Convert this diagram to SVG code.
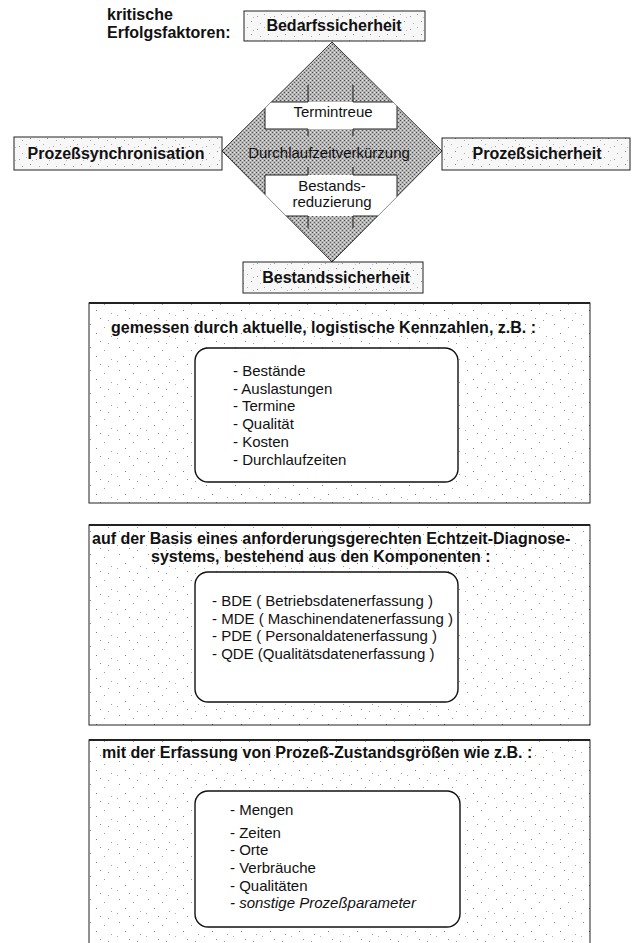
<svg xmlns="http://www.w3.org/2000/svg" width="633" height="943" viewBox="0 0 633 943">
<defs>
<style>
.lbl{font-family:"Liberation Sans",Arial,sans-serif;font-weight:bold;font-size:16px;fill:#111;text-anchor:middle}
.hd{font-family:"Liberation Sans",Arial,sans-serif;font-weight:bold;font-size:16px;fill:#111}
.it{font-family:"Liberation Sans",Arial,sans-serif;font-size:15px;fill:#111}
.dt{font-family:"Liberation Sans",Arial,sans-serif;font-size:15px;fill:#111;text-anchor:middle}
.box{fill:url(#lightspeck);stroke:#222;stroke-width:1}
.frame{fill:url(#speck);stroke:#222;stroke-width:1}
.topline{stroke:#222;stroke-width:2;fill:none}
.inner{fill:#fff;stroke:#111;stroke-width:1.4}
.wbox{fill:#fff;stroke:none}
.edge{fill:none;stroke:#222;stroke-width:1}
</style>
<pattern id="speck" width="29" height="23" patternUnits="userSpaceOnUse">
<rect width="29" height="23" fill="#fff"/>
<rect x="3" y="2" width="1" height="1" fill="#8a8a8a"/>
<rect x="17" y="5" width="1" height="1" fill="#9a9a9a"/>
<rect x="9" y="11" width="1" height="1" fill="#7a7a7a"/>
<rect x="24" y="14" width="1" height="1" fill="#a0a0a0"/>
<rect x="13" y="19" width="1" height="1" fill="#8a8a8a"/>
<rect x="1" y="16" width="1" height="1" fill="#b0b0b0"/>
<rect x="21" y="21" width="1" height="1" fill="#999"/>
</pattern>
<pattern id="lightspeck" width="17" height="13" patternUnits="userSpaceOnUse">
<rect width="17" height="13" fill="#f7f7f7"/>
<rect x="2" y="3" width="1" height="1" fill="#999"/>
<rect x="9" y="1" width="1" height="1" fill="#aaa"/>
<rect x="13" y="8" width="1" height="1" fill="#888"/>
<rect x="5" y="10" width="1" height="1" fill="#aaa"/>
<rect x="15" y="4" width="1" height="1" fill="#bbb"/>
</pattern>
<pattern id="halftone" width="4" height="4" patternUnits="userSpaceOnUse">
<rect width="4" height="4" fill="#b4b4b4"/>
<rect x="0" y="0" width="1" height="1" fill="#4a4a4a"/>
<rect x="2" y="2" width="1" height="1" fill="#5a5a5a"/>
<rect x="2" y="0" width="1" height="1" fill="#e6e6e6"/>
<rect x="0" y="2" width="1" height="1" fill="#dedede"/>
</pattern>
<clipPath id="dclip"><polygon points="332,42 442,151 332,262 222,151"/></clipPath>
</defs>

<g id="title">
<text class="hd" x="107" y="20">kritische</text>
<text class="hd" x="107" y="38">Erfolgsfaktoren:</text>
</g>

<g id="diamond">
<polygon points="332,42 442,151 332,262 222,151" fill="url(#halftone)" stroke="#333" stroke-width="1"/>
<g clip-path="url(#dclip)">
<rect class="wbox" x="265" y="102" width="132" height="27"/>
<rect class="wbox" x="265" y="175" width="132" height="41"/>
<path class="edge" d="M308,85 V102 H265 V129 H308 V136 M353,85 V102 H397 V129 H353 V136"/>
<path class="edge" d="M308,167 V175 H265 V216 H308 V228 M353,167 V175 H397 V216 H353 V228"/>
</g>
<text class="dt" x="333" y="117">Termintreue</text>
<text class="dt" x="329" y="158">Durchlaufzeitverkürzung</text>
<text class="dt" x="332" y="191">Bestands-</text>
<text class="dt" x="332" y="207">reduzierung</text>
</g>

<g id="n-bedarf">
<rect class="box" x="244" y="11" width="181" height="30"/>
<text class="lbl" x="334" y="31">Bedarfssicherheit</text>
</g>
<g id="n-prozsync">
<rect class="box" x="14" y="137" width="208" height="33"/>
<text class="lbl" x="116" y="159">Prozeßsynchronisation</text>
</g>
<g id="n-prozsich">
<rect class="box" x="442" y="138" width="188" height="32"/>
<text class="lbl" x="537" y="159">Prozeßsicherheit</text>
</g>
<g id="n-bestand">
<rect class="box" x="243" y="262" width="180" height="31"/>
<text class="lbl" x="336" y="283">Bestandssicherheit</text>
</g>

<g id="connectors"></g>

<g id="s-kennzahlen">
<rect class="frame" x="89" y="303" width="501" height="200"/>
<line class="topline" x1="89" y1="303" x2="590" y2="303"/>
<text class="hd" x="111" y="333">gemessen durch aktuelle, logistische Kennzahlen, z.B. :</text>
<rect class="inner" x="195" y="348" width="263" height="134" rx="13"/>
<text class="it" x="233" y="376">- Bestände</text>
<text class="it" x="233" y="394">- Auslastungen</text>
<text class="it" x="233" y="411">- Termine</text>
<text class="it" x="233" y="429">- Qualität</text>
<text class="it" x="233" y="447">- Kosten</text>
<text class="it" x="233" y="465">- Durchlaufzeiten</text>
</g>

<g id="s-diagnose">
<rect class="frame" x="89" y="525" width="501" height="200"/>
<line class="topline" x1="89" y1="525" x2="590" y2="525"/>
<text class="hd" x="92" y="544">auf der Basis eines anforderungsgerechten Echtzeit-Diagnose-</text>
<text class="hd" x="151" y="562">systems, bestehend aus den Komponenten :</text>
<rect class="inner" x="195" y="572" width="263" height="130" rx="13"/>
<text class="it" x="212" y="606">- BDE ( Betriebsdatenerfassung )</text>
<text class="it" x="212" y="624">- MDE ( Maschinendatenerfassung )</text>
<text class="it" x="212" y="641">- PDE ( Personaldatenerfassung )</text>
<text class="it" x="212" y="659">- QDE (Qualitätsdatenerfassung )</text>
</g>

<g id="s-zustand">
<rect class="frame" x="89" y="740" width="501" height="215"/>
<line class="topline" x1="89" y1="740" x2="590" y2="740"/>
<text class="hd" x="102" y="758">mit der Erfassung von Prozeß-Zustandsgrößen wie z.B. :</text>
<rect class="inner" x="195" y="791" width="265" height="136" rx="13"/>
<text class="it" x="230" y="815">- Mengen</text>
<text class="it" x="230" y="838">- Zeiten</text>
<text class="it" x="230" y="855">- Orte</text>
<text class="it" x="230" y="873">- Verbräuche</text>
<text class="it" x="230" y="891">- Qualitäten</text>
<text class="it" x="230" y="908" font-style="italic">- sonstige Prozeßparameter</text>
</g>
</svg>
